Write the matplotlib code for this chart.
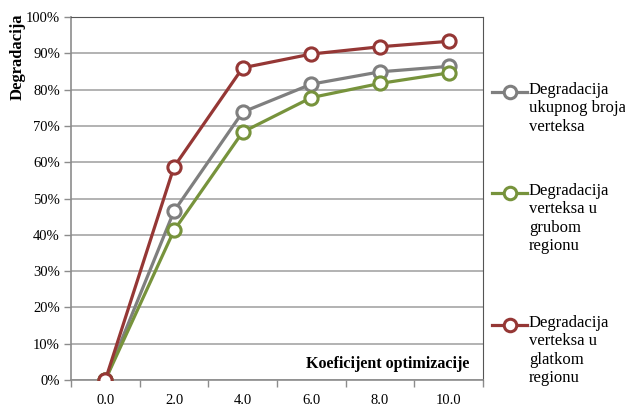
import matplotlib.pyplot as plt
from matplotlib.lines import Line2D
from matplotlib.ticker import FixedLocator, PercentFormatter

plt.rcParams['font.family'] = ['Liberation Serif', 'DejaVu Serif']

# Data
categories = ['0.0', '2.0', '4.0', '6.0', '8.0', '10.0']
ukupno = [0, 46.5, 73.8, 81.5, 84.9, 86.4]
grubi = [0, 41.2, 68.3, 77.8, 81.7, 84.6]
glatki = [0, 58.7, 86.0, 89.8, 91.8, 93.3]

series = [
    ('Degradacija\nukupnog broja\nverteksa', ukupno, '#7f7f7f'),
    ('Degradacija\nverteksa u\ngrubom\nregionu', grubi, '#77933c'),
    ('Degradacija\nverteksa u\nglatkom\nregionu', glatki, '#953735'),
]

fig = plt.figure(figsize=(6.25, 4.08), dpi=100)
ax = fig.add_axes([71 / 625, 28 / 408, 412 / 625, 363 / 408])

x = list(range(len(categories)))
for label, vals, col in series:
    ax.plot(x, vals, color=col, lw=2.3, marker='o', ms=9.5, mfc='white',
            mec=col, mew=2.2, zorder=3)

ax.set_xlim(-0.5, len(categories) - 0.5)
ax.set_ylim(0, 100)
ax.set_yticks(range(0, 101, 10))
ax.yaxis.set_major_formatter(PercentFormatter(decimals=0))
ax.grid(axis='y', color='#a6a6a6', lw=1.2)
ax.set_axisbelow(True)

ax.set_xticks(x)
ax.set_xticklabels(categories)
ax.xaxis.set_minor_locator(FixedLocator([i - 0.5 for i in range(len(categories) + 1)]))
ax.tick_params(axis='x', which='major', length=0, pad=10, labelsize=10.5)
ax.tick_params(axis='x', which='minor', length=5, color='#8c8c8c', width=1)
ax.tick_params(axis='y', length=5, color='#8c8c8c', width=1, labelsize=10.5, pad=3)

for side in ['left', 'bottom']:
    ax.spines[side].set_color('#8c8c8c')
    ax.spines[side].set_linewidth(1.2)
for side in ['top', 'right']:
    ax.spines[side].set_color('#555555')
    ax.spines[side].set_linewidth(0.8)
    ax.spines[side].set_linestyle((0, (1, 1)))

ax.text(0.968, 0.045, 'Koeficijent optimizacije', transform=ax.transAxes,
        ha='right', va='center', fontsize=11.5, fontweight='bold')
fig.text(18 / 625, 1 - 57 / 408, 'Degradacija', rotation=90, ha='center',
         va='center', fontsize=12, fontweight='bold')

# legend drawn by hand so the marker sits on the first text line
legend_y = [92, 193, 325]
for (label, vals, col), yy in zip(series, legend_y):
    fy = 1 - yy / 408
    fig.add_artist(Line2D([492 / 625, 527 / 625], [fy, fy], color=col, lw=2.3,
                          transform=fig.transFigure))
    fig.add_artist(Line2D([509.5 / 625], [fy], marker='o', ms=9, mfc='white',
                          mec=col, mew=2.2, transform=fig.transFigure))
    fig.text(529 / 625, fy + 10 / 408, label, ha='left', va='top',
             fontsize=12, linespacing=1.2)

fig.savefig('out.png', dpi=100)
